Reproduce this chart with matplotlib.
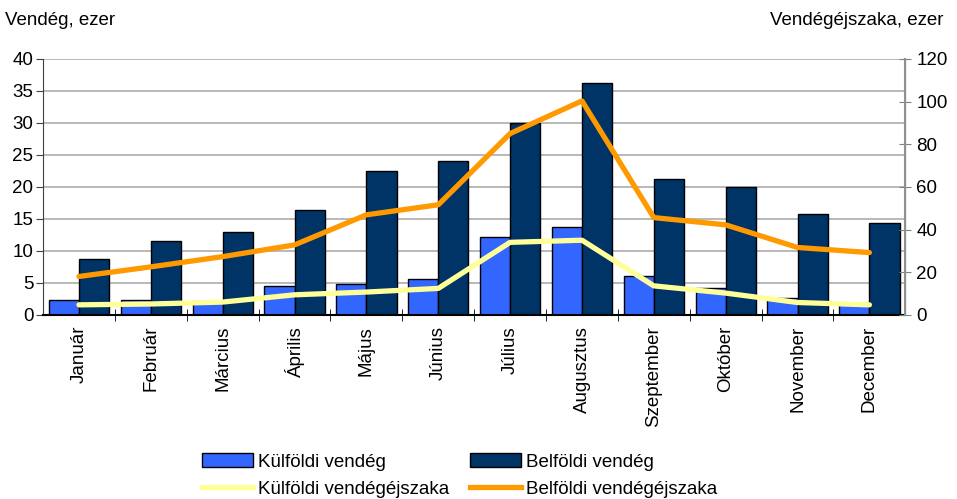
import matplotlib.pyplot as plt
import numpy as np
from matplotlib.patches import Patch
from matplotlib.lines import Line2D

plt.rcParams['font.family'] = ['Liberation Sans', 'DejaVu Sans']

months = ["Január", "Február", "Március", "Április", "Május", "Június",
          "Július", "Augusztus", "Szeptember", "Október", "November", "December"]
kulfoldi_vendeg = [2.3, 2.3, 2.2, 4.5, 4.8, 5.6, 12.2, 13.7, 6.0, 4.2, 2.6, 1.9]
belfoldi_vendeg = [8.8, 11.6, 12.9, 16.4, 22.5, 24.1, 30.0, 36.3, 21.2, 20.0, 15.7, 14.4]
kulfoldi_ejszaka = [4.7, 5.1, 6.0, 9.4, 10.7, 12.4, 34.0, 35.0, 13.6, 10.2, 5.8, 4.7]
belfoldi_ejszaka = [18.0, 22.5, 27.3, 32.8, 46.9, 51.6, 85.0, 100.3, 45.6, 42.2, 31.6, 29.2]

C_KV = "#3366ff"
C_BV = "#003366"
C_KE = "#ffff99"
C_BE = "#ff9900"
GRID = "#b3b3b3"
FS = 13.5

fig = plt.figure(figsize=(9.57, 4.99), dpi=100)
ax = fig.add_axes([0.045, 0.369, 0.901, 0.513])
ax2 = ax.twinx()

x = np.arange(len(months))
w = 0.42
ax.bar(x - w / 2, kulfoldi_vendeg, w, color=C_KV, edgecolor="black", linewidth=1, zorder=2)
ax.bar(x + w / 2, belfoldi_vendeg, w, color=C_BV, edgecolor="black", linewidth=1, zorder=2)

ax2.plot(x, kulfoldi_ejszaka, color=C_KE, linewidth=3.8, solid_capstyle="round")
ax2.plot(x, belfoldi_ejszaka, color=C_BE, linewidth=3.8, solid_capstyle="round")

ax.set_xlim(-0.5, len(months) - 0.5)
ax.set_ylim(0, 40)
ax.set_yticks(np.arange(0, 41, 5))
ax2.set_ylim(0, 120)
ax2.set_yticks(np.arange(0, 121, 20))
ax.yaxis.grid(True, color=GRID, linewidth=1.3, zorder=0)
ax.set_axisbelow(True)

ax.set_xticks(x)
ax.set_xticklabels(months, rotation=90, fontsize=FS)
ax.tick_params(axis="x", which="major", length=0, pad=8)
ax.set_xticks(x[:-1] + 0.5, minor=True)
ax.tick_params(axis="x", which="minor", length=8, direction="inout", color="black")
ax.tick_params(axis="y", labelsize=FS, length=5, color="#404040", pad=2)
ax2.tick_params(axis="y", labelsize=FS, length=8, direction="inout", color="#808080", pad=4)

for a in (ax, ax2):
    a.spines["top"].set_visible(False)
ax.spines["left"].set_color("#404040")
ax.spines["bottom"].set_linewidth(1.5)
ax2.spines["right"].set_color("#909090")
ax2.spines["right"].set_linewidth(1.5)
ax2.spines["left"].set_visible(False)
ax2.spines["bottom"].set_visible(False)

fig.text(0.005, 0.958, "Vendég, ezer", fontsize=FS, ha="left", va="center")
fig.text(0.986, 0.958, "Vendégéjszaka, ezer", fontsize=FS, ha="right", va="center")

handles = [
    Patch(facecolor=C_KV, edgecolor="black", linewidth=1),
    Line2D([0], [0], color=C_KE, linewidth=3.8),
    Patch(facecolor=C_BV, edgecolor="black", linewidth=1),
    Line2D([0], [0], color=C_BE, linewidth=3.8),
]
labels = ["Külföldi vendég", "Külföldi vendégéjszaka",
          "Belföldi vendég", "Belföldi vendégéjszaka"]
fig.legend(handles, labels, ncol=2, frameon=False, fontsize=FS,
           loc="upper left", bbox_to_anchor=(0.211, 0.092),
           handlelength=2.7, handleheight=0.8, handletextpad=0.3,
           columnspacing=1.1, labelspacing=0.5, borderaxespad=0, borderpad=0)

fig.savefig("out.png", dpi=100)
